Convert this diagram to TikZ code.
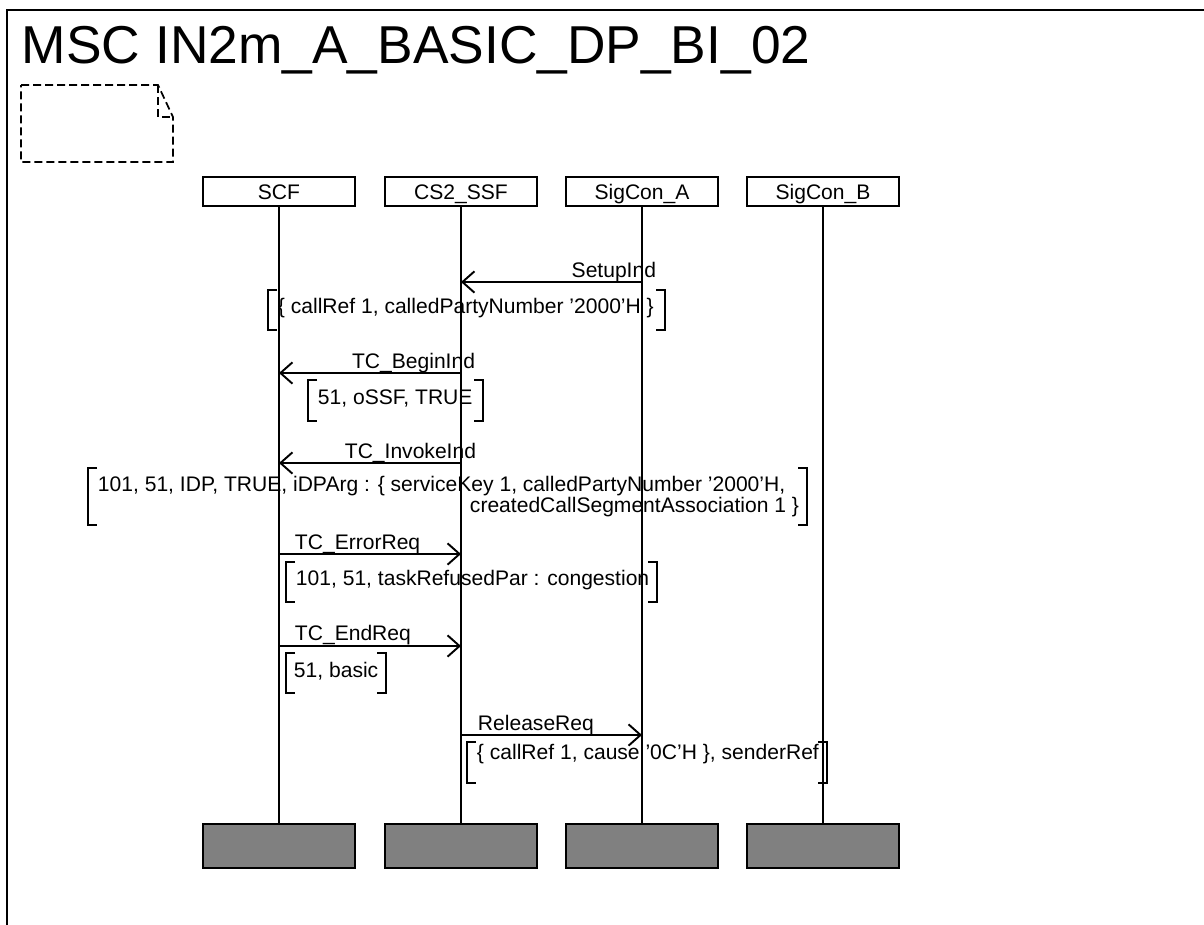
\documentclass[tikz,border=0pt]{standalone}
\usepackage{fontspec}
\setmainfont{Liberation Sans}
\usetikzlibrary{arrows.meta}
\newcommand\msgbrk[4]{%
  \draw (#1+9,#2) -- (#1,#2) -- (#1,#4) -- (#1+9,#4);
  \draw (#3-9,#2) -- (#3,#2) -- (#3,#4) -- (#3-9,#4);}
\begin{document}
\begin{tikzpicture}[x=0.75pt,y=-0.75pt,line width=1.45pt,
  every node/.style={font=\fontsize{15.8pt}{19pt}\selectfont,inner sep=0pt},
  head/.style={draw,rectangle,minimum width=114pt,minimum height=21.75pt,text height=12.6pt,text depth=0pt},
  tail/.style={draw,rectangle,fill=black!50,minimum width=114pt,minimum height=33pt},
  msg/.style={-{Straight Barb[length=9pt,width=16pt]}},
  lab/.style={anchor=base east},
  labr/.style={anchor=base west},
  par/.style={anchor=base west}]
\useasboundingbox (0,0) rectangle (1204,925);
\clip (0,0) rectangle (1204,925);
% frame
\draw[line width=1.6pt] (7,940) -- (7,10) -- (1220,10);
\node[anchor=base west,font=\fontsize{40pt}{48pt}\selectfont] (title) at (21,63) {MSC IN2m\_A\_BASIC\_DP\_BI\_02};
% comment note
\draw[dashed,dash pattern=on 6pt off 3pt,line width=1.3pt] (21,85) -- (158,85) -- (173,117) -- (173,162) -- (21,162) -- cycle;
\draw[dashed,dash pattern=on 6pt off 3pt,line width=1.3pt] (158,85) -- (158,117) -- (173,117);
% instances
\node[head] (h1) at (279,191.5) {SCF};
\node[head] (h2) at (461,191.5) {CS2\_SSF};
\node[head] (h3) at (642,191.5) {SigCon\_A};
\node[head] (h4) at (823,191.5) {SigCon\_B};
\node[tail] (e1) at (279,846) {};
\node[tail] (e2) at (461,846) {};
\node[tail] (e3) at (642,846) {};
\node[tail] (e4) at (823,846) {};
\draw (h1.south) -- (e1.north);
\draw (h2.south) -- (e2.north);
\draw (h3.south) -- (e3.north);
\draw (h4.south) -- (e4.north);
% SetupInd
\coordinate (s1) at (h3 |- 0,282);
\coordinate (t1) at (h2 |- 0,282);
\draw[msg] (s1) -- (t1);
\node[lab] (l1) at (657,277) {SetupInd};
\msgbrk{268}{290}{665}{330}
\node[par] (p1) at (277,313) {\{ callRef 1, calledPartyNumber '2000'H \}};
% TC_BeginInd
\coordinate (s2) at (h2 |- 0,373);
\coordinate (t2) at (h1 |- 0,373);
\draw[msg] (s2) -- (t2);
\node[lab] (l2) at (476,368) {TC\_BeginInd};
\msgbrk{308}{380}{483}{421}
\node[par] (p2) at (317,404) {51, oSSF, TRUE};
% TC_InvokeInd
\coordinate (s3) at (h2 |- 0,463);
\coordinate (t3) at (h1 |- 0,463);
\draw[msg] (s3) -- (t3);
\node[lab] (l3) at (477,458) {TC\_InvokeInd};
\msgbrk{88}{468}{807}{525}
\node[par] (p3a) at (97,491) {101, 51, IDP, TRUE, iDPArg : \{ serviceKey 1, calledPartyNumber '2000'H,};
\node[anchor=base east] (p3b) at (800,512) {createdCallSegmentAssociation 1 \}};
% TC_ErrorReq
\coordinate (s4) at (h1 |- 0,554);
\coordinate (t4) at (h2 |- 0,554);
\draw[msg] (s4) -- (t4);
\node[labr] (l4) at (294,549) {TC\_ErrorReq};
\msgbrk{286}{562}{657}{602}
\node[par] (p4) at (295,585) {101, 51, taskRefusedPar : congestion};
% TC_EndReq
\coordinate (s5) at (h1 |- 0,646);
\coordinate (t5) at (h2 |- 0,646);
\draw[msg] (s5) -- (t5);
\node[labr] (l5) at (294,640) {TC\_EndReq};
\msgbrk{286}{653}{386}{693}
\node[par] (p5) at (293,677) {51, basic};
% ReleaseReq
\coordinate (s6) at (h2 |- 0,735);
\coordinate (t6) at (h3 |- 0,735);
\draw[msg] (s6) -- (t6);
\node[labr] (l6) at (477,730) {ReleaseReq};
\msgbrk{467}{742}{827}{783}
\node[par] (p6) at (476,759) {\{ callRef 1, cause '0C'H \}, senderRef};
\end{tikzpicture}
\end{document}
